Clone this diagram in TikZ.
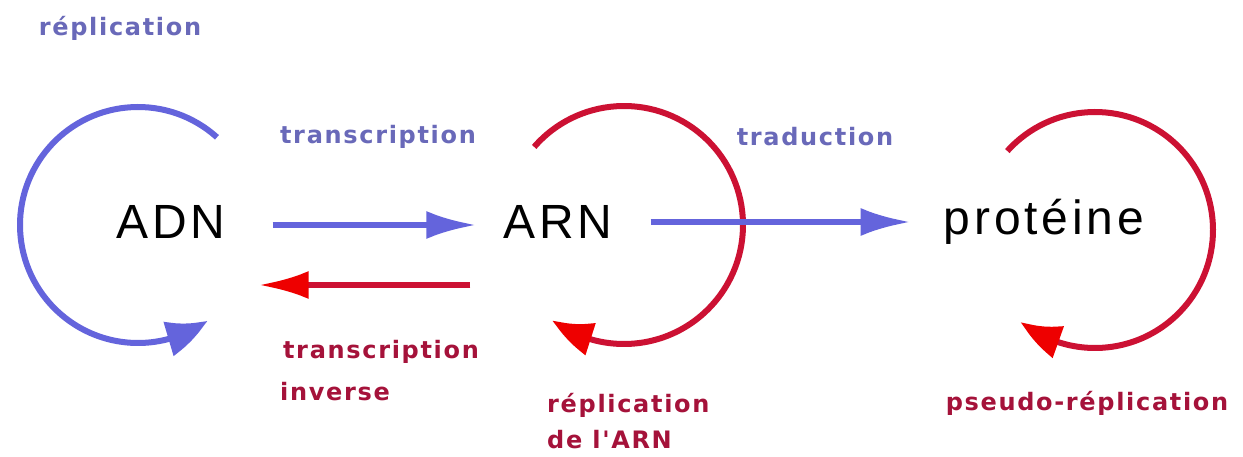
\documentclass[tikz,border=0pt]{standalone}
\usepackage{fontspec}
\setmainfont{Liberation Sans}
\newfontfamily\labfont{DejaVu Sans}[LetterSpace=7]
\newfontfamily\bigfont{Liberation Sans}[LetterSpace=8]
\usetikzlibrary{arrows.meta,bending}
\definecolor{blueA}{RGB}{100,100,220}
\definecolor{blueT}{RGB}{105,105,185}
\definecolor{redA}{RGB}{204,17,51}
\definecolor{redT}{RGB}{165,18,58}
\definecolor{redH}{RGB}{238,0,0}
\begin{document}
\begin{tikzpicture}[x=1pt,y=1pt,
  lab/.style={font=\labfont\bfseries\fontsize{24}{27}\selectfont, inner sep=0pt},
  big/.style={font=\bigfont\fontsize{48}{54}\selectfont, inner sep=0pt, text=black},
  arcline/.style={line width=6pt},
  barrow/.style={line width=6pt, draw=blueA, -{Latex[length=50pt,width=28pt]}},
  rarrow/.style={line width=6pt, draw=redA, -{Latex[length=50pt,width=28pt,color=redH]}},
  barc/.style={arcline, draw=blueA, -{Triangle[length=44pt,width=34pt,bend]}},
  rarc/.style={arcline, draw=redA, -{Triangle[length=44pt,width=32pt,bend,color=redH]}}]
\useasboundingbox[fill=white] (0,0) rectangle (1243,-457);

% main nodes
\node[big] (adn) at (171,-222) {ADN};
\node[big] (arn) at (558,-222) {ARN};
\node[big] (prot) at (1044,-222) {protéine};

% loop centres
\coordinate (c1) at (138,-225);
\coordinate (c2) at (624,-225);
\coordinate (c3) at (1095,-230);

% loops
\draw[barc] ([shift={(48:118)}]c1) arc[start angle=48, end angle=306, radius=118];
\draw[rarc] ([shift={(139:119)}]c2) arc[start angle=139, end angle=-127, radius=119];
\draw[rarc] ([shift={(138:118)}]c3) arc[start angle=138, end angle=-129, radius=118];

% straight arrows
\draw[barrow] ([xshift=47pt,yshift=-3pt]adn.east) -- ([xshift=-27pt,yshift=-3pt]arn.west);
\draw[rarrow] ([xshift=-33pt,yshift=-63pt]arn.west) -- ([xshift=33pt,yshift=-63pt]adn.east);
\draw[barrow] ([xshift=38pt]arn.east) -- ([xshift=-33pt]prot.west);

% labels
\node[lab, text=blueT] (l1) at (120,-28) {réplication};
\node[lab, text=blueT] (l2) at (378,-137) {transcription};
\node[lab, text=blueT] (l3) at (815,-137) {traduction};
\node[lab, text=redT] (l4) at (381,-352) {transcription};
\node[lab, text=redT, anchor=west] (l5) at (280,-392) {inverse};
\node[lab, text=redT, anchor=west] (l6) at (547,-405) {réplication};
\node[lab, text=redT, anchor=west] (l7) at (547,-440) {de l'ARN};
\node[lab, text=redT] (l8) at (1087,-403) {pseudo-réplication};
\end{tikzpicture}
\end{document}
